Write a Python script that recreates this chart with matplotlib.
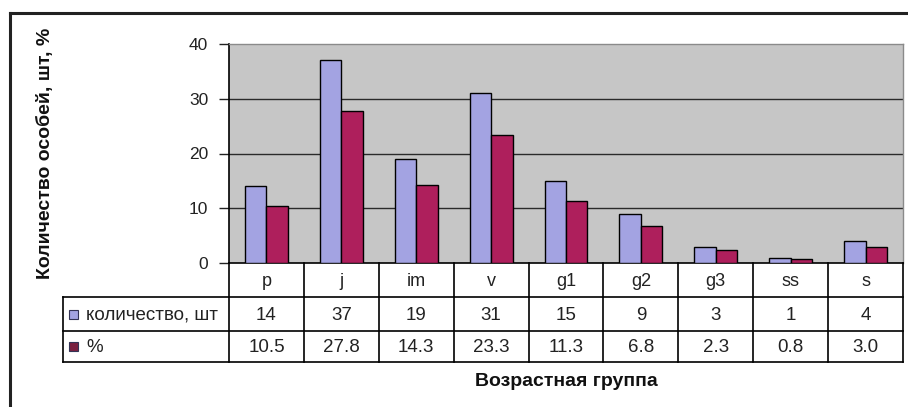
import matplotlib
matplotlib.use("Agg")
import matplotlib.pyplot as plt
from matplotlib.transforms import blended_transform_factory
from matplotlib.patches import Rectangle
import numpy as np

categories = ["p", "j", "im", "v", "g1", "g2", "g3", "ss", "s"]
counts = [14, 37, 19, 31, 15, 9, 3, 1, 4]
percents = [10.5, 27.8, 14.3, 23.3, 11.3, 6.8, 2.3, 0.8, 3.0]
series_names = ["количество, шт", "%"]
y_ticks = [0, 10, 20, 30, 40]
xlabel = "Возрастная группа"
ylabel = "Количество особей, шт, %"

plt.rcParams['font.family'] = ['Liberation Sans', 'DejaVu Sans']

W, H = 908, 407
fig = plt.figure(figsize=(W / 100, H / 100), dpi=100)
fig.patch.set_facecolor("white")

def fx(px):
    return px / W

def fy(py):
    return 1 - py / H

# outer frame (only top and left visible)
fig.add_artist(plt.Line2D([fx(10), fx(10)], [fy(13), fy(420)], color="#222222", lw=2.2, transform=fig.transFigure))
fig.add_artist(plt.Line2D([fx(10), fx(920)], [fy(13), fy(13)], color="#222222", lw=2.2, transform=fig.transFigure))

L, R, T, B = 229, 903, 44, 263
ax = fig.add_axes([fx(L), fy(B), fx(R) - fx(L), fy(T) - fy(B)])
ax.set_facecolor("#C6C6C6")

n = len(categories)
x = np.arange(n)
bw = 1 / 3.5
c1 = "#A3A3E2"
c2 = "#AE1F5C"
ax.bar(x - bw / 2, counts, width=bw, color=c1, edgecolor="black", linewidth=1.0, zorder=3)
ax.bar(x + bw / 2, percents, width=bw, color=c2, edgecolor="black", linewidth=1.0, zorder=3)

ax.set_xlim(-0.5, n - 0.5)
ax.set_ylim(0, 40)
ax.set_yticks(y_ticks)
ax.set_yticklabels([str(t) for t in y_ticks], fontsize=12.5)
ax.tick_params(axis="y", direction="out", length=7, width=1.0, pad=8, colors="#222222")
ax.set_xticks([])
for t in y_ticks[1:4]:
    ax.axhline(t, color="#2a2a2a", lw=1.0, zorder=1)
for s in ["top", "right"]:
    ax.spines[s].set_color("#8a8a8a")
    ax.spines[s].set_linewidth(1.0)
ax.spines["left"].set_color("black")
ax.spines["bottom"].set_color("black")
ax.spines["left"].set_linewidth(1.2)
ax.spines["bottom"].set_linewidth(1.2)

# data table
tr = blended_transform_factory(ax.transData, fig.transFigure)
rows = [263, 297, 331, 362]
lc = "black"
lw = 1.2
for i, yy in enumerate(rows):
    if i == 0:
        continue
    fig.add_artist(plt.Line2D([fx(63), fx(R)], [fy(yy), fy(yy)], color=lc, lw=lw, transform=fig.transFigure))
for k in range(n + 1):
    fig.add_artist(plt.Line2D([k - 0.5, k - 0.5], [fy(263), fy(362)], color=lc, lw=lw, transform=tr))
fig.add_artist(plt.Line2D([fx(63), fx(63)], [fy(297), fy(362)], color=lc, lw=lw, transform=fig.transFigure))

def rowc(i):
    return fy((rows[i] + rows[i + 1]) / 2 + 1)

tc = "#222222"
for k in range(n):
    fig.text(k, rowc(0), categories[k], transform=tr, ha="center", va="center", fontsize=13, color=tc)
    fig.text(k, rowc(1), str(counts[k]), transform=tr, ha="center", va="center", fontsize=13.5, color=tc)
    fig.text(k, rowc(2), f"{percents[k]:.1f}", transform=tr, ha="center", va="center", fontsize=13.5, color=tc)

# legend keys
for i, (name, col) in enumerate(zip(series_names, [c1, "#7a2040"])):
    cy = (rows[i + 1] + rows[i + 2]) / 2
    fig.add_artist(Rectangle((fx(69), fy(cy + 4.5)), fx(9), 9 / H, facecolor=col, edgecolor="#333355", lw=0.8, transform=fig.transFigure))
    fig.text(fx(86), fy(cy + 1), name, ha="left", va="center", fontsize=13.5, color=tc)

fig.text(fx((L + R) / 2), fy(381), xlabel, ha="center", va="center", fontsize=14, fontweight="bold", color="#111111")
fig.text(fx(45), fy((T + B) / 2), ylabel, ha="center", va="center", rotation=90, fontsize=14, fontweight="bold", color="#111111")

fig.savefig("out.png", dpi=100, facecolor="white")
